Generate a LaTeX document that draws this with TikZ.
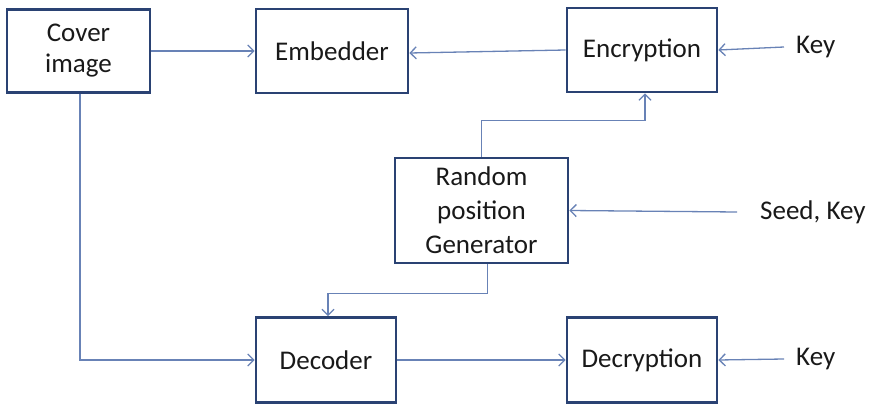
\documentclass[tikz,border=0pt]{standalone}
\usepackage{fontspec}
\setmainfont{Carlito}
\usetikzlibrary{arrows.meta}
\definecolor{boxblue}{RGB}{42,66,115}
\definecolor{lineblue}{RGB}{104,130,182}

\begin{document}
\begin{tikzpicture}[x=1pt,y=-1pt]
\tikzstyle{block}=[draw=boxblue, line width=2.7pt, align=center, inner sep=0pt, font=\fontsize{27}{34}\selectfont, text=black!90]
\tikzstyle{input}=[inner sep=0pt, anchor=west, font=\fontsize{27}{34}\selectfont, text=black!90]
\tikzstyle{flow}=[draw=lineblue, line width=1.3pt, -{Straight Barb[length=6pt,width=12pt]}]
\useasboundingbox (0,0) rectangle (878,404);

\node[block, minimum width=143pt, minimum height=83pt, font=\fontsize{27}{31}\selectfont] (cover) at (78.5,51) {Cover\\image};
\node[block, minimum width=152pt, minimum height=84pt] (emb) at (332,51) {Embedder};
\node[block, minimum width=150pt, minimum height=84pt] (enc) at (642,50) {Encryption};
\node[block, minimum width=173pt, minimum height=105pt] (rpg) at (481.5,210.5) {Random\\position\\Generator};
\node[block, minimum width=140pt, minimum height=85pt] (dec) at (326,360) {Decoder};
\node[block, minimum width=150pt, minimum height=85pt] (decr) at (642,360) {Decryption};

\node[input] (key1) at (796,47) {Key};
\node[input] (seed) at (760,212) {Seed, Key};
\node[input] (key2) at (796,359) {Key};

\draw[flow] (cover) -- (emb);
\draw[flow] (enc.west) -- ([yshift=-2pt]emb.east);
\draw[flow] ([xshift=-12pt]key1.west) -- (enc.east);
\draw[flow] (rpg.north) -- ++(0,-36) -| ([xshift=3pt]enc.south);
\draw[flow] ([xshift=-23pt]seed.west) -- (rpg.east);
\draw[flow] ([xshift=6pt]rpg.south) -- ++(0,29) -| ([xshift=2pt]dec.north);
\draw[flow] ([xshift=1.5pt]cover.south) |- (dec.west);
\draw[flow] (dec) -- (decr);
\draw[flow] ([xshift=-12pt]key2.west) -- (decr.east);
\end{tikzpicture}
\end{document}
